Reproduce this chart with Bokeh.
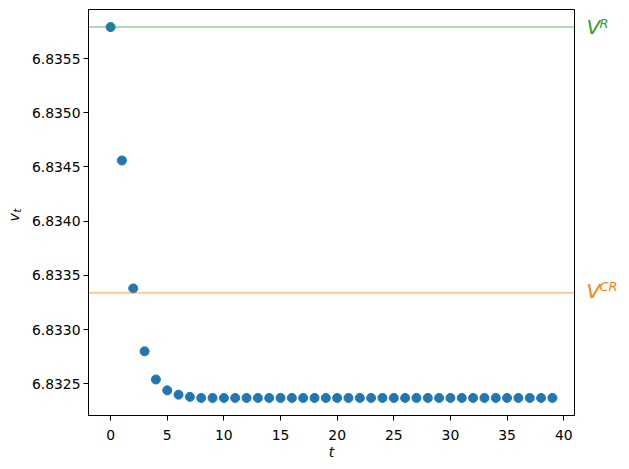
import math
from bokeh.plotting import figure
from bokeh.layouts import row
from bokeh.models import Range1d, Span, FixedTicker, PrintfTickFormatter
from bokeh.core.properties import value
from bokeh.embed import file_html
from bokeh.resources import INLINE

# ---- data ----
t_vals = list(range(40))
v_vals = [6.83579, 6.83456, 6.83338, 6.83280, 6.83254, 6.83244, 6.83240, 6.83238] + [6.83237] * 32
V_R = 6.83579
V_CR = 6.83334
x_ticks = [0, 5, 10, 15, 20, 25, 30, 35, 40]
y_ticks = [6.8325, 6.8330, 6.8335, 6.8340, 6.8345, 6.8350, 6.8355]

FONT = "DejaVu Sans"
x0, x1 = -1.95, 40.95
y0, y1 = 6.832208, 6.835952
yr = Range1d(y0, y1)

TOP, BOTTOM, FH = 9, 45, 406

# ---- main figure ----
p = figure(frame_width=486, frame_height=FH,
           min_border_left=66, min_border_right=2, min_border_top=TOP, min_border_bottom=BOTTOM,
           x_range=Range1d(x0, x1), y_range=yr,
           output_backend="svg", toolbar_location=None)
p.background_fill_color = "white"
p.border_fill_color = "white"
p.outline_line_color = "black"
p.outline_line_width = 1
p.xgrid.visible = False
p.ygrid.visible = False

for ax in (p.xaxis[0], p.yaxis[0]):
    ax.axis_line_color = "black"
    ax.axis_line_width = 1
    ax.major_tick_in = 0
    ax.major_tick_out = 5
    ax.minor_tick_line_color = None
    ax.major_label_text_font = FONT
    ax.major_label_text_font_size = "13.9px"
    ax.major_label_text_color = "black"

p.xaxis[0].major_label_standoff = 9
p.yaxis[0].major_label_standoff = 3
p.xaxis[0].ticker = FixedTicker(ticks=x_ticks)
p.yaxis[0].ticker = FixedTicker(ticks=y_ticks)
p.yaxis[0].formatter = PrintfTickFormatter(format="%.4f")

p.xaxis[0].axis_label = "t"
p.xaxis[0].axis_label_text_font = FONT
p.xaxis[0].axis_label_text_font_style = "italic"
p.xaxis[0].axis_label_text_font_size = "13.9px"
p.xaxis[0].axis_label_text_color = "black"
p.xaxis[0].axis_label_standoff = 1

p.add_layout(Span(location=V_R, dimension="width", line_color="#2ca02c", line_alpha=0.5, line_width=1.5))
p.add_layout(Span(location=V_CR, dimension="width", line_color="#ff7f0e", line_alpha=0.5, line_width=1.5))

p.scatter(t_vals, v_vals, size=9, color="#1f77b4", line_color="#1f77b4")

# ---- left strip: y-axis label v_t ----
LW = 22
pl = figure(frame_width=LW, frame_height=FH, min_border_left=0, min_border_right=0,
            min_border_top=TOP, min_border_bottom=BOTTOM,
            x_range=Range1d(0, LW), y_range=yr, x_axis_type=None, y_axis_type=None,
            output_backend="svg", toolbar_location=None)
pl.outline_line_color = None
pl.xgrid.visible = False
pl.ygrid.visible = False
ymid = (y0 + y1) / 2
pl.text(x=[13], y=[ymid], text=["v"], y_offset=5, angle=math.pi / 2,
        text_font=value(FONT), text_font_style="italic", text_font_size="13.9px",
        text_color="black", text_align="center", text_baseline="middle")
pl.text(x=[16.5], y=[ymid], text=["t"], y_offset=-2, angle=math.pi / 2,
        text_font=value(FONT), text_font_style="italic", text_font_size="9.7px",
        text_color="black", text_align="center", text_baseline="middle")

# ---- right strip: V^R, V^CR labels ----
RW = 53
pr = figure(frame_width=RW, frame_height=FH, min_border_left=0, min_border_right=0,
            min_border_top=TOP, min_border_bottom=BOTTOM,
            x_range=Range1d(0, RW), y_range=yr, x_axis_type=None, y_axis_type=None,
            output_backend="svg", toolbar_location=None)
pr.outline_line_color = None
pr.xgrid.visible = False
pr.ygrid.visible = False
pr.text(x=[10], y=[V_R], text=["V"], y_offset=0,
        text_font=value(FONT), text_font_style="italic", text_font_size="20px",
        text_color="#2ca02c", text_align="left", text_baseline="middle")
pr.text(x=[23], y=[V_R], text=["R"], y_offset=-4,
        text_font=value(FONT), text_font_style="italic", text_font_size="13px",
        text_color="#2ca02c", text_align="left", text_baseline="middle")
pr.text(x=[10], y=[V_CR], text=["V"], y_offset=-2,
        text_font=value(FONT), text_font_style="italic", text_font_size="20px",
        text_color="#ff7f0e", text_align="left", text_baseline="middle")
pr.text(x=[23], y=[V_CR], text=["CR"], y_offset=-6,
        text_font=value(FONT), text_font_style="italic", text_font_size="13px",
        text_color="#ff7f0e", text_align="left", text_baseline="middle")

layout = row(pl, p, pr, spacing=0)
open("out.html", "w").write(file_html(layout, INLINE))
